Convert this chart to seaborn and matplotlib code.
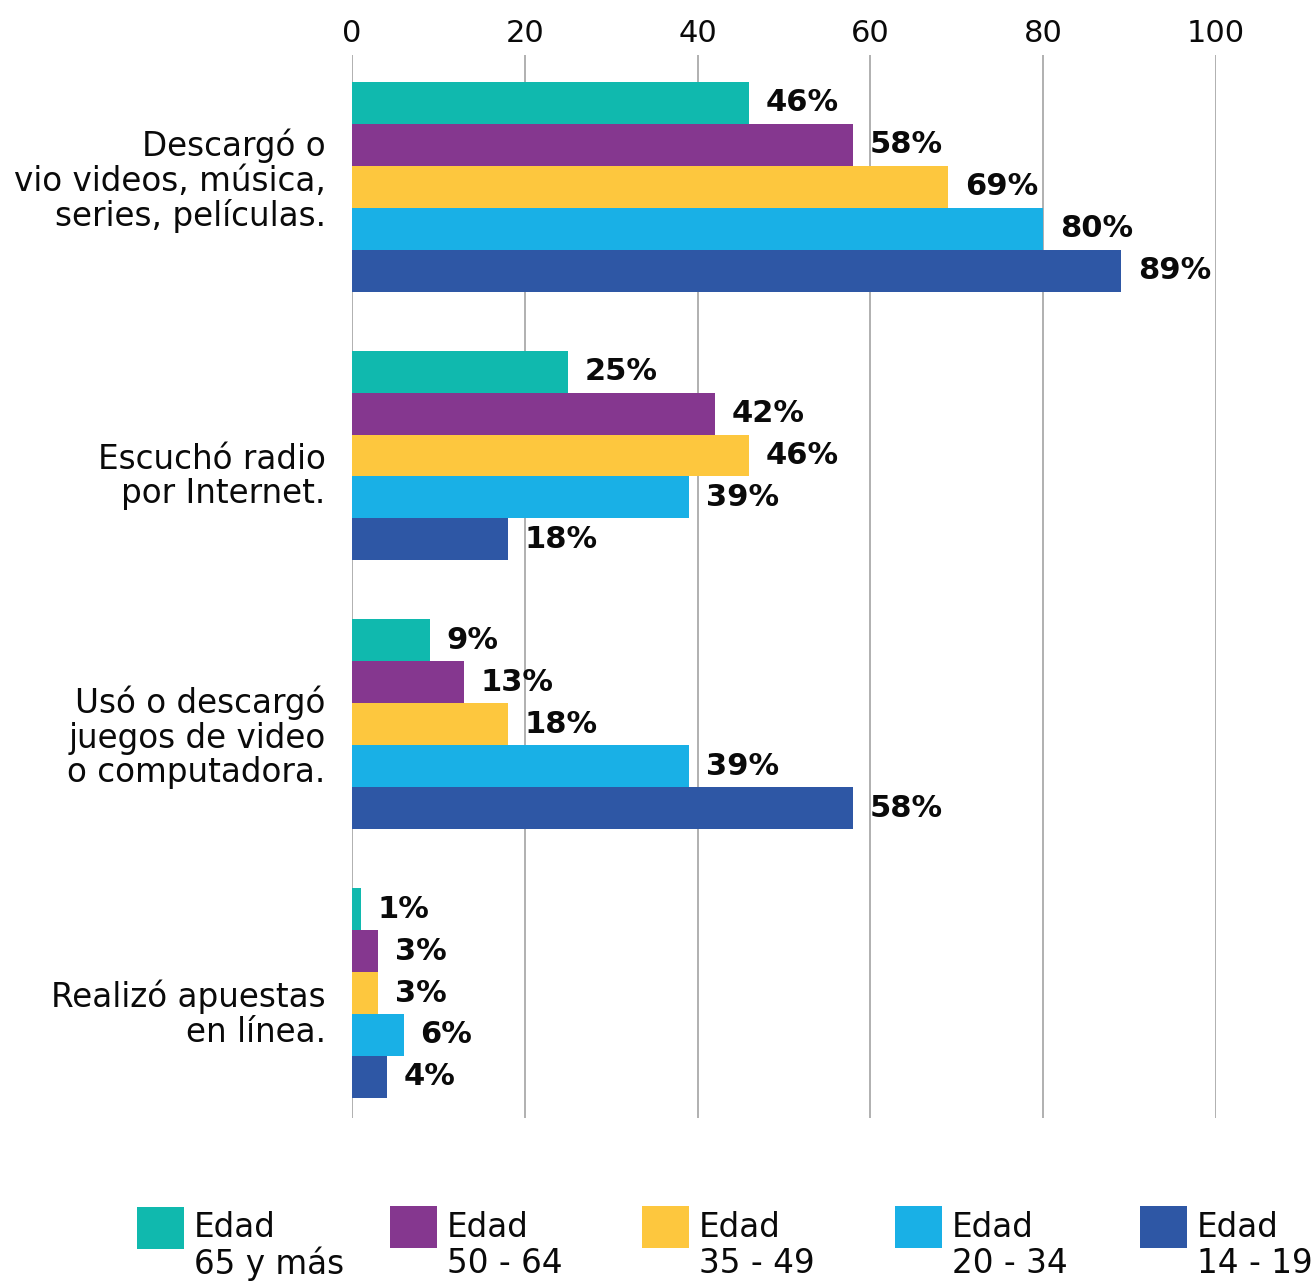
import matplotlib
matplotlib.use("Agg")
import matplotlib.pyplot as plt
from matplotlib.patches import Rectangle
from matplotlib.legend_handler import HandlerPatch
from matplotlib.transforms import ScaledTranslation
import pandas as pd
import seaborn as sns

# Activities (one group of bars each)
categories = [
    "Descargó o\nvio videos, música,\nseries, películas.",
    "Escuchó radio\npor Internet.",
    "Usó o descargó\njuegos de video\no computadora.",
    "Realizó apuestas\nen línea.",
]
age_groups = ["Edad\n65 y más", "Edad\n50 - 64", "Edad\n35 - 49",
              "Edad\n20 - 34", "Edad\n14 - 19"]

# Percentage of each age group per activity
pct_65_plus = [46, 25, 9, 1]
pct_50_64 = [58, 42, 13, 3]
pct_35_49 = [69, 46, 18, 3]
pct_20_34 = [80, 39, 39, 6]
pct_14_19 = [89, 18, 58, 4]

x_ticks = [0, 20, 40, 60, 80, 100]
colors = ["#10B9AE", "#85378F", "#FDC73E", "#19B0E6", "#2E57A5"]

series = [pct_65_plus, pct_50_64, pct_35_49, pct_20_34, pct_14_19]
df = pd.DataFrame(
    [{"Actividad": c, "Grupo": g, "Porcentaje": v}
     for g, vals in zip(age_groups, series)
     for c, v in zip(categories, vals)]
)

sns.set_theme(style="white")
plt.rcParams["font.family"] = ["DejaVu Sans"]
plt.rcParams["text.color"] = "#0a0a0a"

W, H = 1311, 1281
fig = plt.figure(figsize=(W / 100, H / 100), dpi=100)
ax = fig.add_axes([352 / W, 1 - 1118 / H, (1216 - 352) / W, (1118 - 55) / H])

sns.barplot(data=df, y="Actividad", x="Porcentaje", hue="Grupo",
            order=categories, hue_order=age_groups, palette=colors,
            saturation=1, width=0.78, orient="h", errorbar=None,
            linewidth=0, legend=False, ax=ax)

ax.set_xlim(0, 100)
ax.set_ylim(3.465, -0.49)
ax.set_xticks(x_ticks)
ax.xaxis.tick_top()
ax.set_xlabel("")
ax.set_ylabel("")
ax.grid(axis="x", color="#aaaaaa", linewidth=1.3)
ax.grid(axis="y", visible=False)
ax.set_axisbelow(True)
for s in ax.spines.values():
    s.set_visible(False)

ax.tick_params(axis="x", length=0, pad=5, labelsize=22, colors="#0a0a0a")
ax.tick_params(axis="y", length=0, pad=19, labelsize=23.5, colors="#0a0a0a")

# Nudge the activity labels vertically (pixels, positive = down)
label_shift = [-10, 17, 9, 17]
for t, dy in zip(ax.get_yticklabels(), label_shift):
    t.set_linespacing(1.05)
    t.set_horizontalalignment("right")
    t.set_transform(t.get_transform() + ScaledTranslation(0, -dy / 100, fig.dpi_scale_trans))

for cont in ax.containers:
    ax.bar_label(cont, fmt="%g%%", padding=12, fontsize=22,
                 fontweight="bold", color="#0a0a0a")


# Legend swatch sits beside the first line of its two-line label
def top_swatch(legend, orig_handle, xdescent, ydescent, width, height, fontsize):
    w, h = 47 * 0.72, 42 * 0.72
    cy = -ydescent + height / 2 + 14.5
    return Rectangle((-xdescent, cy - h / 2), w, h)


legend_x = [137, 390, 642, 895, 1140]
for cont, label, lx in zip(ax.containers, age_groups, legend_x):
    leg = fig.legend([cont.patches[0]], [label], loc="upper left",
                     bbox_to_anchor=(lx / W, 1 - 1211 / H),
                     frameon=False, fontsize=23.5, borderpad=0,
                     borderaxespad=0, handlelength=1.44,
                     handletextpad=0.3,
                     handler_map={cont.patches[0]: HandlerPatch(patch_func=top_swatch)})
    for t in leg.get_texts():
        t.set_linespacing(1.1)

fig.savefig("out.png", dpi=100)
